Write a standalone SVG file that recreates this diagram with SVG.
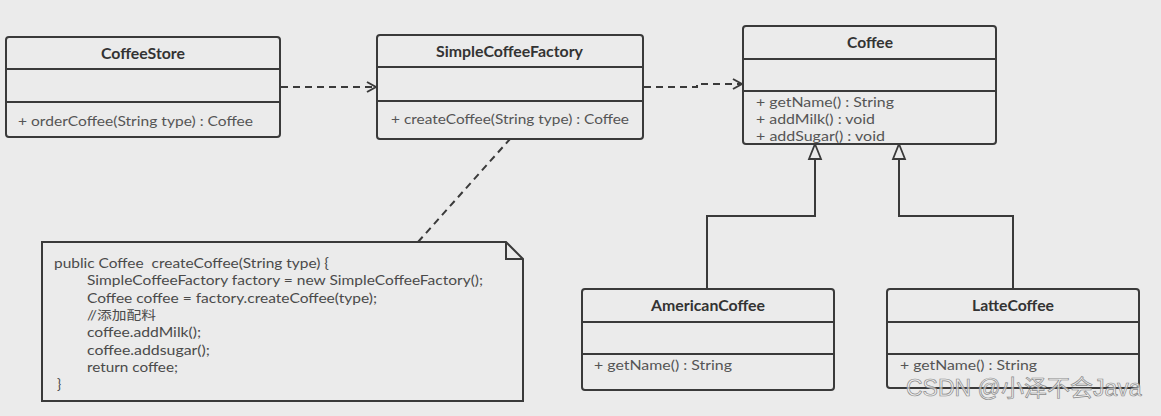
<svg xmlns="http://www.w3.org/2000/svg" width="1161" height="416" viewBox="0 0 1161 416">
  <defs>
    <style>
      .box { fill: #ebebeb; stroke: #3a3a3a; stroke-width: 2; }
      .sep { stroke: #3a3a3a; stroke-width: 2; }
      .title { font-family: Lato, "Open Sans", sans-serif; font-size: 14.5px; font-weight: bold; fill: #333; }
      .member { font-family: Lato, "Open Sans", sans-serif; font-size: 14px; fill: #555; }
      .code { font-family: Lato, "Open Sans", "Noto Sans CJK SC", sans-serif; font-size: 14px; fill: #4a4a4a; }
      .cjk { font-size: 12.5px; }
      .dep { fill: none; stroke: #3a3a3a; stroke-width: 2; stroke-dasharray: 7 5; }
      .gen { fill: none; stroke: #3a3a3a; stroke-width: 2; }
      .tri { fill: #ebebeb; stroke: #3a3a3a; stroke-width: 1.8; }
      .mark { font-family: "Liberation Sans", "Noto Sans CJK SC", sans-serif; font-size: 23px; fill: #f2f2f2; fill-opacity: 0.7; stroke: #8a8a8a; stroke-width: 0.7; }
    </style>
    <marker id="open" viewBox="0 0 12 12" refX="11" refY="6" markerWidth="12" markerHeight="12" markerUnits="userSpaceOnUse" orient="auto">
      <path d="M2,1 L11,6 L2,11" fill="none" stroke="#3a3a3a" stroke-width="2"/>
    </marker>
  </defs>

  <rect width="1161" height="416" fill="#ebebeb"/>

  <!-- connectors: dependencies, note link, generalizations -->
  <g id="connectors">
    <path class="dep" d="M281,87 L376,87" marker-end="url(#open)"/>
    <path class="dep" d="M644,87 L697,87 L697,84 L742,84" marker-end="url(#open)"/>
    <path class="dep" d="M418,242 L510,139"/>
    <path class="gen" d="M707,289 L707,216 L815,216 L815,145"/>
    <path class="gen" d="M1013,289 L1013,216 L899,216 L899,145"/>
    <path class="tri" d="M815,144 L821,159 L809,159 Z"/>
    <path class="tri" d="M899,144 L905,159 L893,159 Z"/>
  </g>

  <g id="CoffeeStore">
    <rect class="box" x="6" y="37" width="274" height="100" rx="3"/>
    <line class="sep" x1="6" y1="69" x2="280" y2="69"/>
    <line class="sep" x1="6" y1="102" x2="280" y2="102"/>
    <text class="title" x="101" y="59" textLength="84" lengthAdjust="spacingAndGlyphs">CoffeeStore</text>
    <text class="member" x="18" y="126" textLength="235" lengthAdjust="spacingAndGlyphs">+ orderCoffee(String type) : Coffee</text>
  </g>

  <g id="SimpleCoffeeFactory">
    <rect class="box" x="377" y="35" width="266" height="104" rx="3"/>
    <line class="sep" x1="377" y1="67" x2="643" y2="67"/>
    <line class="sep" x1="377" y1="101" x2="643" y2="101"/>
    <text class="title" x="436" y="57" textLength="147" lengthAdjust="spacingAndGlyphs">SimpleCoffeeFactory</text>
    <text class="member" x="391" y="124" textLength="238" lengthAdjust="spacingAndGlyphs">+ createCoffee(String type) : Coffee</text>
  </g>

  <g id="Coffee">
    <rect class="box" x="743" y="26" width="253" height="118" rx="3"/>
    <line class="sep" x1="743" y1="59" x2="996" y2="59"/>
    <line class="sep" x1="743" y1="91" x2="996" y2="91"/>
    <text class="title" x="847" y="48" textLength="46" lengthAdjust="spacingAndGlyphs">Coffee</text>
    <text class="member" x="756" y="107" textLength="138" lengthAdjust="spacingAndGlyphs">+ getName() : String</text>
    <text class="member" x="756" y="124" textLength="119" lengthAdjust="spacingAndGlyphs">+ addMilk() : void</text>
    <text class="member" x="756" y="141" textLength="129" lengthAdjust="spacingAndGlyphs">+ addSugar() : void</text>
  </g>

  <g id="AmericanCoffee">
    <rect class="box" x="582" y="289" width="252" height="101" rx="3"/>
    <line class="sep" x1="582" y1="322" x2="834" y2="322"/>
    <line class="sep" x1="582" y1="354" x2="834" y2="354"/>
    <text class="title" x="651" y="311" textLength="114" lengthAdjust="spacingAndGlyphs">AmericanCoffee</text>
    <text class="member" x="594" y="370" textLength="138" lengthAdjust="spacingAndGlyphs">+ getName() : String</text>
  </g>

  <g id="LatteCoffee">
    <rect class="box" x="887" y="289" width="252" height="99" rx="3"/>
    <line class="sep" x1="887" y1="322" x2="1139" y2="322"/>
    <line class="sep" x1="887" y1="354" x2="1139" y2="354"/>
    <text class="title" x="972" y="311" textLength="82" lengthAdjust="spacingAndGlyphs">LatteCoffee</text>
    <text class="member" x="900" y="370" textLength="137" lengthAdjust="spacingAndGlyphs">+ getName() : String</text>
  </g>

  <g id="note">
    <path class="box" d="M42,242 L506,242 L523,259 L523,401 L42,401 Z"/>
    <path d="M506,242 L506,259 L523,259" fill="none" stroke="#3a3a3a" stroke-width="2"/>
    <text class="code" x="54" y="268" textLength="275" lengthAdjust="spacingAndGlyphs" xml:space="preserve">public Coffee  createCoffee(String type) {</text>
    <text class="code" x="87" y="285" textLength="396" lengthAdjust="spacingAndGlyphs">SimpleCoffeeFactory factory = new SimpleCoffeeFactory();</text>
    <text class="code" x="87" y="303" textLength="290" lengthAdjust="spacingAndGlyphs">Coffee coffee = factory.createCoffee(type);</text>
    <text class="code cjk" x="87" y="320" textLength="69" lengthAdjust="spacingAndGlyphs">//添加配料</text>
    <text class="code" x="87" y="337" textLength="114" lengthAdjust="spacingAndGlyphs">coffee.addMilk();</text>
    <text class="code" x="87" y="355" textLength="123" lengthAdjust="spacingAndGlyphs">coffee.addsugar();</text>
    <text class="code" x="87" y="372" textLength="91" lengthAdjust="spacingAndGlyphs">return coffee;</text>
    <text class="code" x="57" y="389">}</text>
  </g>

  <text class="mark" x="906" y="396">CSDN @小泽不会Java</text>
</svg>
